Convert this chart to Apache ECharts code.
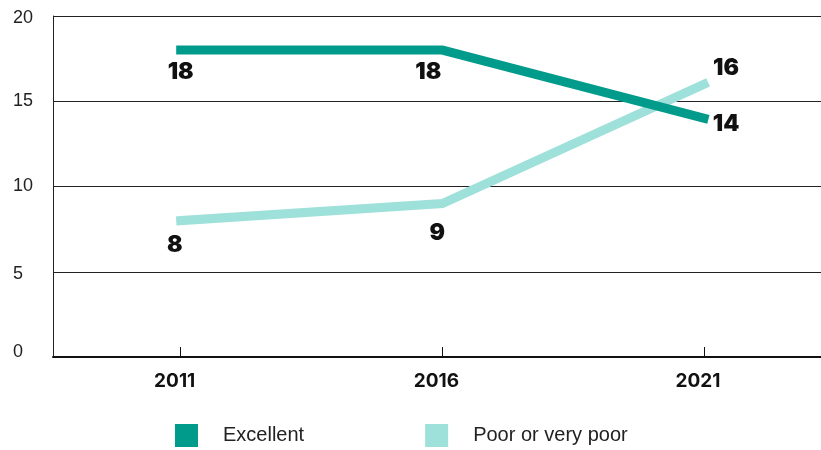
<!DOCTYPE html>
<html>
<head>
<meta charset="utf-8">
<script src="https://cdn.jsdelivr.net/npm/echarts@6/dist/echarts.min.js"></script>
<style>
  html, body { margin: 0; padding: 0; background: #ffffff; }
  #chart { width: 821px; height: 450px; }
</style>
</head>
<body>
<div id="chart"></div>
<script>
// Survey years and share of respondents (%) for each rating
const years = [2011, 2016, 2021];
const excellent = [18, 18, 14];
const poorOrVeryPoor = [8, 9, 16];
const yTicks = [0, 5, 10, 15, 20];

const seriesNames = ['Excellent', 'Poor or very poor'];
const colors = ['#009b8a', '#9ee0da'];

// Where each value label sits relative to its point (px)
const excellentLabelShift = [[0, 22], [-14, 22], [22, 6]];
const poorLabelShift = [[-6, 24], [-5, 30], [22, -16]];

function pairs(values) {
  return years.map((y, i) => [y, values[i]]);
}

function lineSeries(name, values, color, shifts, z) {
  return {
    name: name,
    type: 'line',
    z: z,
    data: pairs(values).map((p, i) => ({
      value: p,
      label: { offset: shifts[i] }
    })),
    showSymbol: true,
    symbol: 'circle',
    symbolSize: 1,
    itemStyle: { color: color, opacity: 0 },
    lineStyle: { color: color, width: 9, cap: 'square', join: 'miter' },
    label: {
      show: true,
      position: 'inside',
      formatter: (p) => String(p.value[1]),
      fontFamily: 'Inter, "Liberation Sans", Arial, sans-serif',
      fontWeight: 900,
      fontSize: 23,
      color: '#111111',
      opacity: 1
    },
    emphasis: { disabled: true },
    animation: false
  };
}

const chart = echarts.init(document.getElementById('chart'), null, { renderer: 'canvas' });

chart.setOption({
  backgroundColor: '#ffffff',
  animation: false,
  color: colors,
  grid: { left: 53, right: 0, top: 16, bottom: 93, containLabel: false },
  legend: {
    data: seriesNames.map((n, i) => ({ name: n, itemStyle: { color: colors[i], opacity: 1 } })),
    left: 175,
    top: 424,
    padding: 0,
    icon: 'rect',
    itemWidth: 23,
    itemHeight: 23,
    itemGap: 121,
    selectedMode: false,
    textStyle: {
      fontFamily: '"Liberation Sans", Arial, sans-serif',
      fontSize: 20,
      color: '#222222',
      padding: [0, 0, 0, 20]
    }
  },
  xAxis: {
    type: 'value',
    min: 2008.56,
    max: 2023.235,
    splitLine: { show: false },
    axisLine: { show: true, lineStyle: { color: '#111111', width: 2 } },
    axisTick: {
      show: true,
      inside: true,
      length: 10,
      customValues: years,
      lineStyle: { color: '#111111', width: 1 }
    },
    axisLabel: {
      customValues: years,
      margin: 15,
      padding: [0, 12, 0, 0],
      fontFamily: 'Inter, "Liberation Sans", Arial, sans-serif',
      fontWeight: 'bold',
      fontSize: 19,
      color: '#111111',
      formatter: (v) => String(v)
    }
  },
  yAxis: {
    type: 'value',
    min: yTicks[0],
    max: yTicks[yTicks.length - 1],
    interval: 5,
    axisLine: { show: true, lineStyle: { color: '#222222', width: 1 } },
    axisTick: { show: false },
    splitLine: { show: true, lineStyle: { color: '#222222', width: 1 } },
    axisLabel: {
      align: 'left',
      margin: 40,
      fontFamily: '"Liberation Sans", Arial, sans-serif',
      fontSize: 18,
      color: '#222222',
      formatter: (v) => (v === 0 ? '{z|0}' : (v === 20 || v === 5 ? '{d|' + v + '}' : String(v))),
      rich: {
        z: { fontFamily: '"Liberation Sans", Arial, sans-serif', fontSize: 18, color: '#222222', padding: [0, 0, 10, 0] },
        d: { fontFamily: '"Liberation Sans", Arial, sans-serif', fontSize: 18, color: '#222222', padding: [5, 0, 0, 0] }
      }
    }
  },
  series: [
    lineSeries(seriesNames[0], excellent, colors[0], excellentLabelShift, 4),
    lineSeries(seriesNames[1], poorOrVeryPoor, colors[1], poorLabelShift, 3)
  ]
});
</script>
</body>
</html>
